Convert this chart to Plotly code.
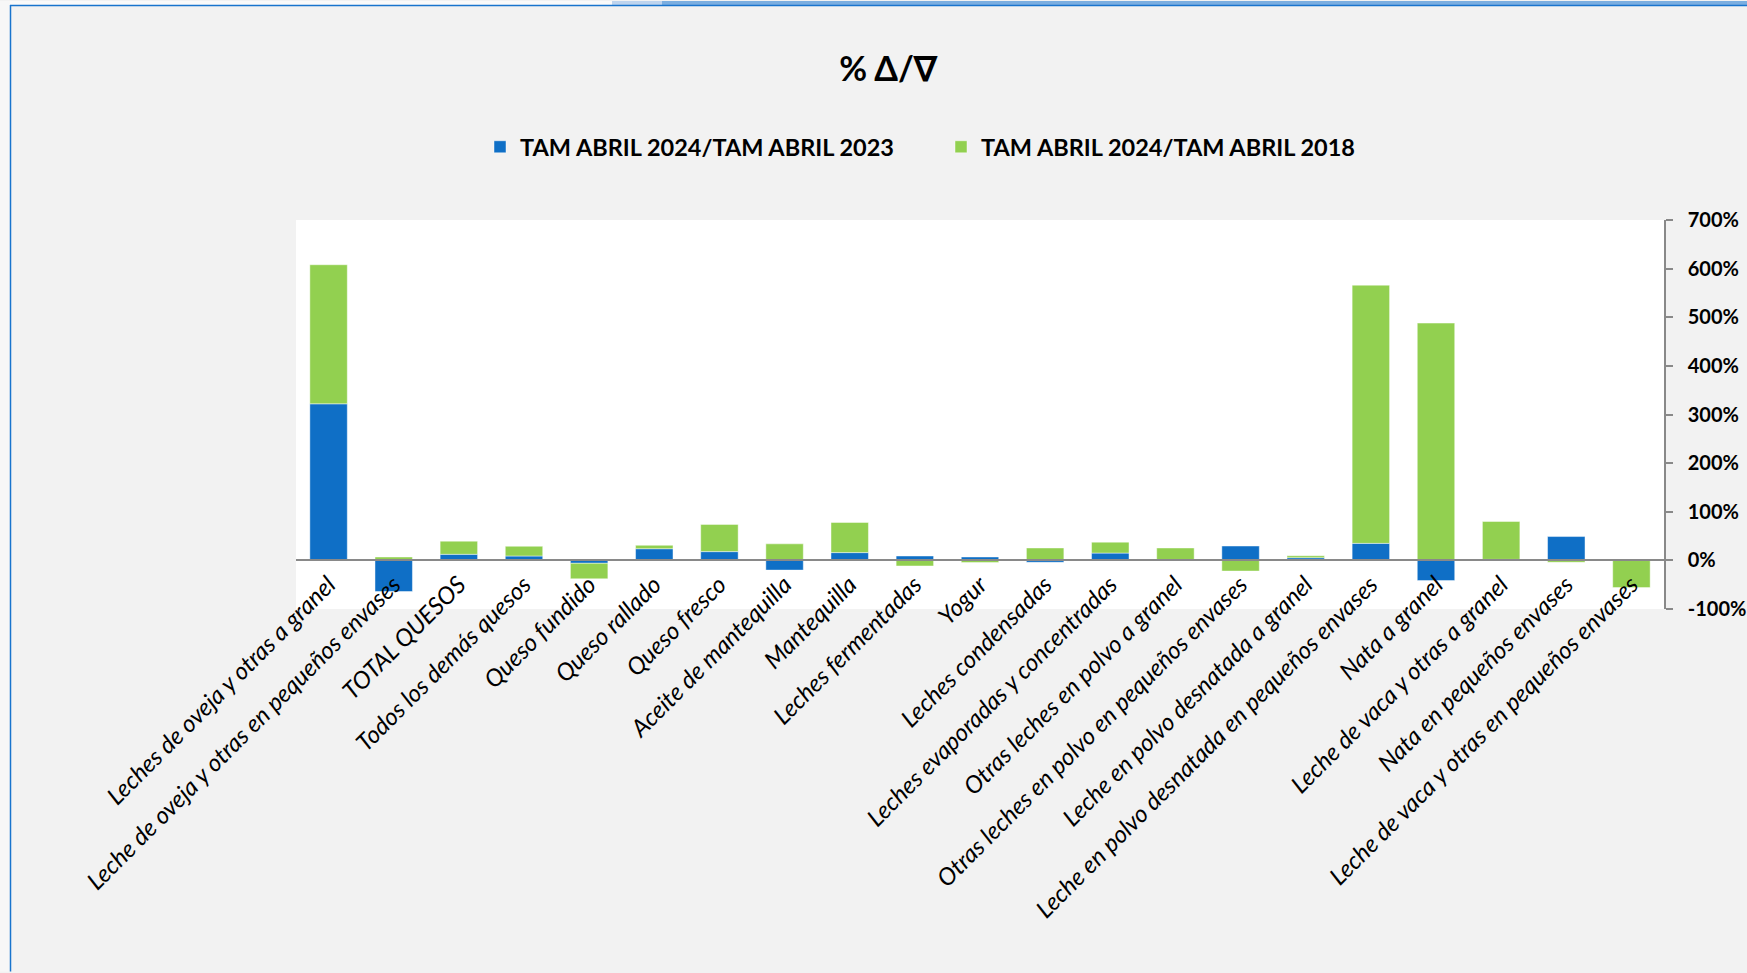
import plotly.graph_objects as go

CATEGORIES = [
    "Leches de oveja y otras a granel",
    "Leche de oveja y otras en pequeños envases",
    "TOTAL QUESOS",
    "Todos los demás quesos",
    "Queso fundido",
    "Queso rallado",
    "Queso fresco",
    "Aceite de mantequilla",
    "Mantequilla",
    "Leches fermentadas",
    "Yogur",
    "Leches condensadas",
    "Leches evaporadas y concentradas",
    "Otras leches en polvo a granel",
    "Otras leches en polvo en pequeños envases",
    "Leche en polvo desnatada a granel",
    "Leche en polvo desnatada en pequeños envases",
    "Nata a granel",
    "Leche de vaca y otras a granel",
    "Nata en pequeños envases",
    "Leche de vaca y otras en pequeños envases",
]

SERIES_1_NAME = "TAM ABRIL 2024/TAM ABRIL 2023"
SERIES_2_NAME = "TAM ABRIL 2024/TAM ABRIL 2018"

# values in percent
SERIES_1 = [322, -64, 12.5, 9, -6, 24, 18, -20, 16, 9, 7, -4, 15, 1, 29.5,
            5.5, 35, -41.5, 2, 49, 1.5]
SERIES_2 = [286, 7, 27, 20, -32, 7, 56, 34, 62, -11.5, -4.5, 25.5, 22.5, 24.5, -22,
            4, 531, 488, 78, -4, -56]

Y_TICKS = [-100, 0, 100, 200, 300, 400, 500, 600, 700]
Y_TICK_LABELS = ["-100%", "0%", "100%", "200%", "300%", "400%", "500%", "600%", "700%"]

TITLE = "% Δ/∇"

W, H = 1747, 973
L, R, T, B = 296, 83, 219.5, 363.5
PW, PH = W - L - R, H - T - B

BLUE = "#0F6FC6"
GREEN = "#92D050"
GREY = "#898989"


def px_x(px):
    return (px - L) / PW


def px_y(py):
    return (H - B - py) / PH


fig = go.Figure()
fig.add_trace(go.Bar(
    x=CATEGORIES, y=SERIES_1, name=SERIES_1_NAME,
    marker=dict(color=BLUE, line=dict(color="rgba(255,255,255,0.45)", width=1)),
    width=0.575,
))
fig.add_trace(go.Bar(
    x=CATEGORIES, y=SERIES_2, name=SERIES_2_NAME,
    marker=dict(color=GREEN, line=dict(color="rgba(255,255,255,0.45)", width=1)),
    width=0.575,
))

zero_pos = (0 - Y_TICKS[0]) / (Y_TICKS[-1] - Y_TICKS[0])

fig.update_layout(
    width=W, height=H,
    margin=dict(l=L, r=R, t=T, b=B, pad=0, autoexpand=False),
    barmode="relative",
    paper_bgcolor="#F2F2F2",
    plot_bgcolor="#FFFFFF",
    font=dict(family="Lato, 'Open Sans', sans-serif", color="#000000"),
    title=dict(
        text=TITLE, x=888 / W, xref="container", xanchor="center",
        y=1 - 69 / H, yref="container", yanchor="middle",
        font=dict(size=34, weight=700, color="#000000"),
    ),
    legend=dict(
        orientation="h", xref="container", yref="container",
        x=480 / W, xanchor="left", y=1 - 147 / H, yanchor="middle",
        font=dict(size=23.5, weight=700, color="#000000"),
        bgcolor="rgba(0,0,0,0)", itemwidth=30, traceorder="normal",
        entrywidth=416,
    ),
    showlegend=True,
    xaxis=dict(
        anchor="free", position=zero_pos, automargin=False,
        showline=True, linecolor=GREY, linewidth=1.5,
        ticks="", tickangle=-45,
        tickfont=dict(size=24, style="italic", color="#000000"),
        showgrid=False, zeroline=False,
        range=[-0.5, len(CATEGORIES) - 0.5],
        layer="above traces",
    ),
    yaxis=dict(
        side="right", anchor="x", automargin=False,
        range=[Y_TICKS[0], Y_TICKS[-1]],
        tickmode="array", tickvals=Y_TICKS, ticktext=Y_TICK_LABELS,
        showline=True, linecolor=GREY, linewidth=1.5,
        ticks="outside", ticklen=7, tickcolor=GREY, tickwidth=1.5,
        tickfont=dict(size=20, weight=700, color="#000000"),
        ticklabelstandoff=11,
        showgrid=False, zeroline=False,
    ),
    shapes=[
        # left light strip
        dict(type="rect", xref="paper", yref="paper",
             x0=px_x(0), x1=px_x(10), y0=px_y(H), y1=px_y(0),
             fillcolor="#F7F7F7", line=dict(width=0), layer="above"),
        # top strip
        dict(type="rect", xref="paper", yref="paper",
             x0=px_x(10), x1=px_x(612), y0=px_y(4), y1=px_y(0),
             fillcolor="#FAFAFA", line=dict(width=0), layer="above"),
        dict(type="rect", xref="paper", yref="paper",
             x0=px_x(612), x1=px_x(662), y0=px_y(4), y1=px_y(0),
             fillcolor="#BED4EE", line=dict(width=0), layer="above"),
        dict(type="rect", xref="paper", yref="paper",
             x0=px_x(662), x1=px_x(W), y0=px_y(4), y1=px_y(0),
             fillcolor="#7BAEE0", line=dict(width=0), layer="above"),
        # frame lines
        dict(type="line", xref="paper", yref="paper",
             x0=px_x(10.5), x1=px_x(10.5), y0=px_y(H), y1=px_y(4),
             line=dict(color="#1874CD", width=1.5), layer="above"),
        dict(type="line", xref="paper", yref="paper",
             x0=px_x(10), x1=px_x(W), y0=px_y(4.5), y1=px_y(4.5),
             line=dict(color="#1874CD", width=1.5), layer="above"),
    ],
)

fig.write_html("out.html", config={"displayModeBar": False},
               post_script="document.body.style.margin='0';")
